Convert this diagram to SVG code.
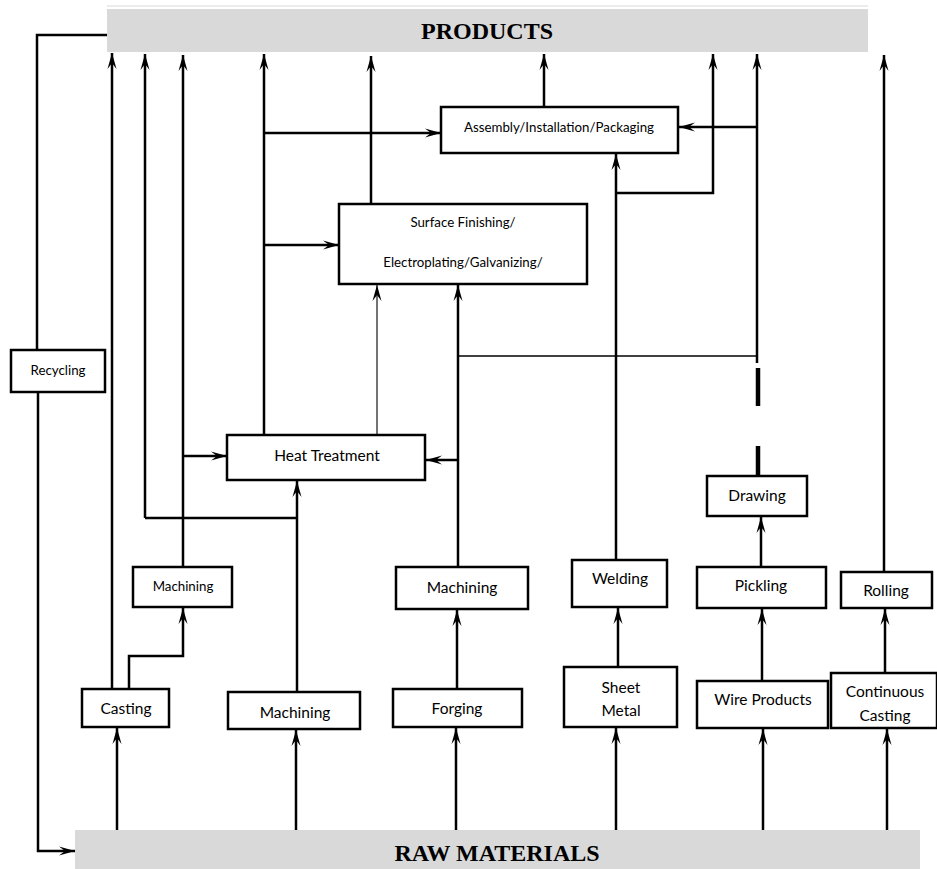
<svg xmlns="http://www.w3.org/2000/svg" width="937" height="869" viewBox="0 0 937 869">
  <style>
    .bar { fill: #d9d9d9; }
    .bartxt { font-family: "Liberation Serif", "Times New Roman", serif; font-weight: bold; font-size: 24px; fill: #000; text-anchor: middle; }
    .box rect { fill: #fff; stroke: #000; stroke-width: 2.5; }
    .box text { font-family: Lato, "Liberation Sans", sans-serif; font-size: 15.5px; fill: #000; text-anchor: middle; }
    .box text.sm { font-size: 13.3px; }
    .wire { fill: none; stroke: #000; stroke-width: 2.5; }
    .thin { fill: none; stroke: #000; stroke-width: 1.5; }
    .grey { fill: none; stroke: #444; stroke-width: 1.5; }
    .dash { fill: none; stroke: #000; stroke-width: 4.5; }
    .arr { marker-end: url(#head); }
  </style>
  <defs>
    <marker id="head" viewBox="-17 -6 18 12" refX="0" refY="0" markerWidth="18" markerHeight="12" markerUnits="userSpaceOnUse" orient="auto">
      <path d="M0,0 L-16,-4.5 L-10,0 L-16,4.5 Z" fill="#000"/>
    </marker>
  </defs>

  <!-- end bars -->
  <g id="products">
    <line x1="107" y1="6" x2="868" y2="6" stroke="#e6e6e6" stroke-width="1.5"/>
    <rect class="bar" x="107" y="9" width="761" height="43"/>
    <text class="bartxt" x="487" y="39">PRODUCTS</text>
  </g>
  <g id="raw-materials">
    <rect class="bar" x="75" y="830" width="845" height="39"/>
    <text class="bartxt" x="497" y="861">RAW MATERIALS</text>
  </g>

  <!-- connectors -->
  <g id="connectors">
    <path class="wire" d="M107,35 H37 V350"/>
    <path class="wire arr" d="M38,392 V851 H75"/>

    <path class="wire arr" d="M117,830 V728"/>
    <path class="wire arr" d="M296,830 V730"/>
    <path class="wire arr" d="M456,830 V728"/>
    <path class="wire arr" d="M616,830 V728"/>
    <path class="wire arr" d="M763,830 V729"/>
    <path class="wire arr" d="M887,830 V729"/>

    <path class="wire arr" d="M112,689 V53"/>
    <path class="wire arr" d="M129,689 V656 H183 V608"/>
    <path class="wire arr" d="M183,567 V55"/>
    <path class="wire arr" d="M183,456 H227"/>
    <path class="wire arr" d="M297,692 V481"/>
    <path class="wire" d="M145,518 H297"/>
    <path class="wire arr" d="M145,518 V54"/>

    <path class="wire arr" d="M264,435 V54"/>
    <path class="wire arr" d="M264,133 H441"/>
    <path class="wire arr" d="M264,245 H339"/>
    <path class="grey arr" d="M377,435 V285"/>
    <path class="wire arr" d="M371,204 V56"/>
    <path class="wire arr" d="M544,107 V54"/>

    <path class="wire arr" d="M457,689 V610"/>
    <path class="wire arr" d="M458,567 V285"/>
    <path class="wire arr" d="M458,460 H426"/>
    <path class="thin" d="M458,356 H757"/>

    <path class="wire arr" d="M618,667 V608"/>
    <path class="wire arr" d="M616,560 V154"/>
    <path class="wire arr" d="M616,193 H713 V54"/>

    <path class="wire arr" d="M762,681 V609"/>
    <path class="wire arr" d="M761,567 V517"/>
    <path class="dash" d="M758,476 V446"/>
    <path class="dash" d="M758,406 V368"/>
    <path class="wire arr" d="M757,363 V54"/>
    <path class="wire arr" d="M757,127 H679"/>

    <path class="wire arr" d="M885,673 V609"/>
    <path class="wire arr" d="M884,572 V55"/>
  </g>

  <!-- process boxes -->
  <g id="recycling" class="box">
    <rect x="11" y="350" width="94" height="42"/>
    <text class="sm" x="58" y="375">Recycling</text>
  </g>
  <g id="assembly" class="box">
    <rect x="441" y="107" width="237" height="46"/>
    <text class="sm" x="559" y="132">Assembly/Installation/Packaging</text>
  </g>
  <g id="surface-finishing" class="box">
    <rect x="339" y="204" width="248" height="80"/>
    <text class="sm" x="463" y="227">Surface Finishing/</text>
    <text class="sm" x="463" y="267">Electroplating/Galvanizing/</text>
  </g>
  <g id="heat-treatment" class="box">
    <rect x="227" y="435" width="198" height="45"/>
    <text x="327" y="461">Heat Treatment</text>
  </g>
  <g id="drawing" class="box">
    <rect x="707" y="476" width="100" height="40"/>
    <text x="757" y="501">Drawing</text>
  </g>

  <g id="machining-1" class="box">
    <rect x="133" y="567" width="99" height="40"/>
    <text class="sm" x="183" y="591">Machining</text>
  </g>
  <g id="machining-3" class="box">
    <rect x="396" y="567" width="132" height="42"/>
    <text x="462" y="593">Machining</text>
  </g>
  <g id="welding" class="box">
    <rect x="572" y="560" width="95" height="47"/>
    <text x="620" y="584">Welding</text>
  </g>
  <g id="pickling" class="box">
    <rect x="697" y="567" width="129" height="41"/>
    <text x="761" y="591">Pickling</text>
  </g>
  <g id="rolling" class="box">
    <rect x="841" y="572" width="91" height="36"/>
    <text x="886" y="596">Rolling</text>
  </g>

  <g id="casting" class="box">
    <rect x="82" y="689" width="87" height="38"/>
    <text x="126" y="714">Casting</text>
  </g>
  <g id="machining-2" class="box">
    <rect x="228" y="692" width="132" height="37"/>
    <text x="295" y="718">Machining</text>
  </g>
  <g id="forging" class="box">
    <rect x="393" y="689" width="129" height="38"/>
    <text x="457" y="714">Forging</text>
  </g>
  <g id="sheet-metal" class="box">
    <rect x="564" y="667" width="113" height="60"/>
    <text x="621" y="693">Sheet</text>
    <text x="621" y="716">Metal</text>
  </g>
  <g id="wire-products" class="box">
    <rect x="697" y="681" width="131" height="47"/>
    <text x="763" y="705">Wire Products</text>
  </g>
  <g id="continuous-casting" class="box">
    <rect x="831" y="673" width="106" height="55"/>
    <text x="885" y="697">Continuous</text>
    <text x="885" y="721">Casting</text>
  </g>
</svg>
